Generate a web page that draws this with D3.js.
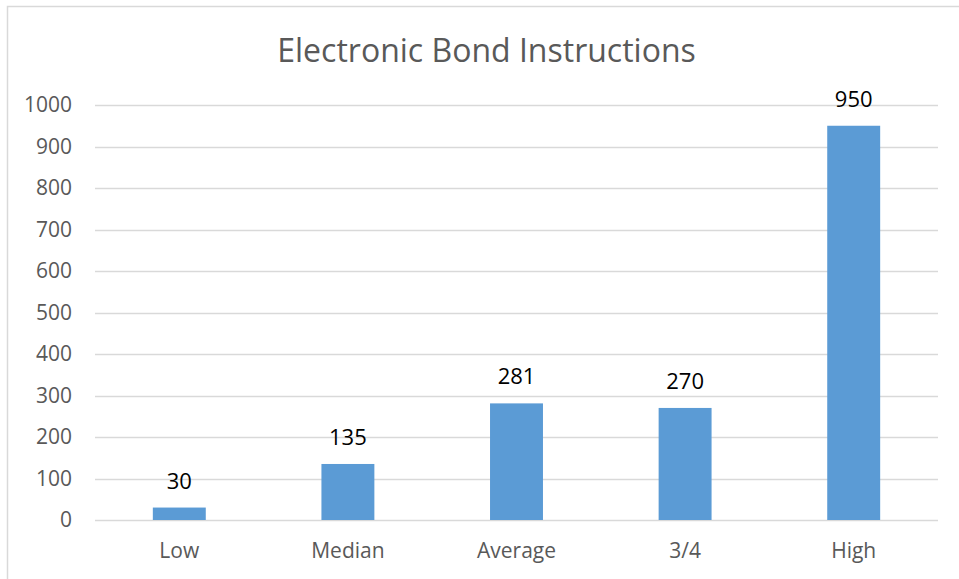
<!DOCTYPE html>
<html>
<head>
<meta charset="utf-8">
<script src="https://cdn.jsdelivr.net/npm/d3@7"></script>
<style>
  body { margin: 0; background: #fff; }
  svg { display: block; font-family: "Open Sans", sans-serif; }
</style>
</head>
<body>
<div id="chart"></div>
<script>
// chart data
const categories = ["Low", "Median", "Average", "3/4", "High"]
const values = [30, 135, 281, 270, 950]
const yTicks = [0, 100, 200, 300, 400, 500, 600, 700, 800, 900, 1000]
const chartTitle = "Electronic Bond Instructions"

// dimensions
const width = 959, height = 579
const plot = { left: 95, right: 938, top: 105, bottom: 520 }

const svg = d3.select("#chart")
  .append("svg")
    .attr("width", width)
    .attr("height", height)

// chart area border (only left/top visible in the picture)
svg.append("rect")
  .attr("x", 7.5)
  .attr("y", 6.5)
  .attr("width", 1000)
  .attr("height", 1000)
  .attr("fill", "none")
  .attr("stroke", "#d9d9d9")
  .attr("stroke-width", 1.5)

// scales
const x = d3.scaleBand()
  .domain(categories)
  .range([plot.left, plot.right])
  .paddingInner(0.686)
  .paddingOuter(0.343)

const y = d3.scaleLinear()
  .domain([0, 1000])
  .range([plot.bottom, plot.top])

// title
svg.append("text")
  .attr("x", 486.5)
  .attr("y", 62)
  .attr("text-anchor", "middle")
  .attr("fill", "#595959")
  .style("font-size", "32px")
  .text(chartTitle)

// gridlines
svg.append("g")
  .selectAll("line")
  .data(yTicks)
  .join("line")
    .attr("x1", plot.left)
    .attr("x2", plot.right)
    .attr("y1", d => Math.round(y(d)) + 0.5)
    .attr("y2", d => Math.round(y(d)) + 0.5)
    .attr("stroke", "#d9d9d9")
    .attr("stroke-width", 1.5)

// y axis labels
const yAxis = svg.append("g")
  .attr("transform", `translate(${plot.left},0)`)
  .call(d3.axisLeft(y).tickValues(yTicks).tickFormat(d3.format("d")).tickSize(0).tickPadding(23))
yAxis.select(".domain").remove()
yAxis.selectAll("text")
  .attr("fill", "#595959")
  .style("font-size", "21px")
  .style("font-family", "'Open Sans', sans-serif")

// x axis labels
const xAxis = svg.append("g")
  .attr("transform", `translate(0,${plot.bottom})`)
  .call(d3.axisBottom(x).tickSize(0).tickPadding(0))
xAxis.select(".domain").remove()
xAxis.selectAll("text")
  .attr("dy", null)
  .attr("y", 38)
  .attr("fill", "#595959")
  .style("font-size", "21px")
  .style("font-family", "'Open Sans', sans-serif")

// bars
svg.append("g")
  .selectAll("rect")
  .data(values)
  .join("rect")
    .attr("x", (d, i) => x(categories[i]))
    .attr("y", d => y(d))
    .attr("width", x.bandwidth())
    .attr("height", d => y(0) - y(d))
    .attr("fill", "#5b9bd5")

// data labels
svg.append("g")
  .selectAll("text")
  .data(values)
  .join("text")
    .attr("x", (d, i) => x(categories[i]) + x.bandwidth() / 2)
    .attr("y", d => y(d) - 19)
    .attr("text-anchor", "middle")
    .attr("fill", "#000")
    .style("font-size", "22px")
    .text(d => d)
</script>
</body>
</html>
